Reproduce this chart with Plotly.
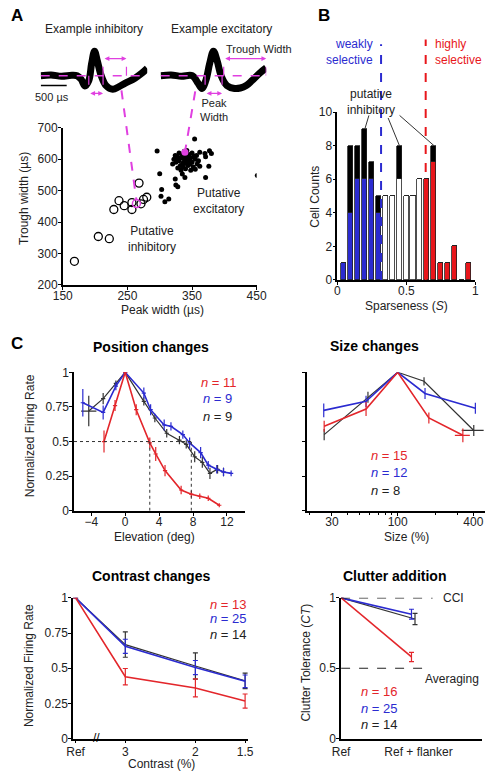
import plotly.graph_objects as go

W, H = 496, 778
def PX(p): return p / W
def PY(p): return 1 - p / H
def lin(v, r, d): return d[0] + (v - r[0]) / (r[1] - r[0]) * (d[1] - d[0])

RED = "#e3262b"; BLUE = "#2b2bd0"; BLK = "#333333"; MAG = "#e040e0"
FONT = "Liberation Sans, Arial, sans-serif"

# ---------------- Panel A: example waveforms (time us, normalized amplitude)
inh_t = [0, 200, 400, 600, 700, 780, 850, 925, 980, 1036, 1090, 1165, 1258, 1387, 1500, 1628, 1813, 1943, 2050]
inh_v = [0.0, 0.03, -0.02, 0.02, 0.0, -0.15, -0.42, -0.2, 0.5, 1.0, 0.6, 0.0, -0.4, -0.55, -0.45, -0.3, -0.1, 0.1, 0.3]
exc_t = [0, 200, 400, 610, 720, 795, 870, 945, 1017, 1090, 1165, 1277, 1425, 1535, 1650, 1758, 1905, 2035]
exc_v = [0.0, 0.03, -0.02, 0.0, -0.3, -0.52, -0.2, 0.5, 1.0, 0.6, 0.0, -0.4, -0.52, -0.5, -0.4, -0.2, 0.1, 0.32]
inh_peak_w = [925, 1200]; inh_trough_w = [1200, 1650]
exc_peak_w = [857, 1184]; exc_trough_w = [1215, 2035]

# Panel A scatter (peak width, trough width in us)
inh_px = [168, 205, 222, 229, 237, 245, 257, 257, 268, 271, 275, 280]
inh_py = [275, 354, 347, 440, 468, 452, 440, 462, 524, 458, 472, 479]
inh_example = (264, 459)
exc_px = [296, 354, 300, 303, 302, 308, 314, 325, 328, 324, 335, 339, 371, 451, 376, 362, 370, 380, 371, 377,
          322, 325, 327, 330, 332, 334, 336, 338, 340, 342, 344, 346, 348, 350, 352, 355, 358, 330, 335, 345,
          328, 333, 340, 348, 355, 320, 338, 350, 342, 324, 360, 362, 336, 331, 344, 353, 326, 347, 339, 357]
exc_py = [626, 664, 554, 504, 482, 465, 473, 518, 512, 537, 553, 542, 542, 548, 578, 622, 618, 618, 608, 627,
          600, 590, 610, 595, 580, 605, 588, 600, 612, 592, 580, 598, 605, 590, 575, 600, 585, 620, 615, 615,
          572, 565, 570, 565, 568, 585, 625, 620, 628, 612, 595, 578, 575, 604, 603, 610, 597, 585, 586, 612]
exc_example = (339, 622)

# ---------------- Panel B: sparseness histogram
bins = [0.05, 0.10, 0.15, 0.20, 0.25, 0.30, 0.35, 0.40, 0.45, 0.50, 0.55, 0.60, 0.65, 0.70, 0.75, 0.80, 0.85, 0.90, 0.95]
sel_counts = [1, 4, 6, 6, 6, 4, 5, 5, 6, 5, 5, 6, 6, 7, 1, 1, 2, 0, 1]
inh_counts = [0, 4, 2, 3, 1, 1, 0, 0, 2, 0, 0, 0, 0, 1, 0, 0, 0, 0, 0]
weak_thr, high_thr = 0.317, 0.64

# ---------------- Panel C: position
pos_red_x = [-2.5, -1.2, 0, 1.3, 2.9, 3.6, 4.7, 6.6, 7.8, 8.8, 9.8, 11.1]
pos_red_y = [0.50, 0.76, 1.0, 0.73, 0.49, 0.41, 0.29, 0.15, 0.12, 0.105, 0.09, 0.04]
pos_red_e = [0.08, 0.04, 0, 0.04, 0.04, 0.05, 0.04, 0.03, 0.025, 0.02, 0.02, 0.015]
pos_blue_x = [-5.0, -2.6, -1.1, 0, 2.2, 3.0, 4.6, 5.4, 6.8, 7.6, 8.9, 9.8, 10.8, 11.6, 12.5]
pos_blue_y = [0.78, 0.71, 0.90, 1.0, 0.85, 0.73, 0.62, 0.61, 0.55, 0.49, 0.42, 0.33, 0.30, 0.28, 0.27]
pos_blue_e = [0.10, 0.05, 0.03, 0, 0.04, 0.04, 0.04, 0.03, 0.03, 0.04, 0.04, 0.03, 0.03, 0.03, 0.02]
pos_blk_x = [-4.3, -2.6, -1.1, 0, 2.2, 3.5, 4.9, 6.4, 7.2, 8.2, 9.1, 10.0, 10.9, 11.6]
pos_blk_y = [0.72, 0.81, 0.92, 1.0, 0.79, 0.67, 0.56, 0.51, 0.48, 0.39, 0.35, 0.27, 0.30, 0.28]
pos_blk_e = [0.11, 0.04, 0.02, 0, 0.03, 0.03, 0.03, 0.03, 0.03, 0.04, 0.04, 0.04, 0.03, 0.03]
pos_blk_ex = [0.9, 0.25, 0.25, 0, 0.25, 0.25, 0.25, 0.25, 0.25, 0.25, 0.25, 0.25, 0.25, 0.25]
half_red, half_blue = 2.9, 7.8

# size
size_red_x = [26, 56, 100, 177, 330]; size_red_y = [0.61, 0.735, 1.0, 0.67, 0.545]; size_red_e = [0.04, 0.05, 0, 0.04, 0.05]
size_blue_x = [25.8, 56, 100, 165, 415]; size_blue_y = [0.725, 0.79, 1.0, 0.847, 0.74]; size_blue_e = [0.05, 0.04, 0, 0.04, 0.04]
size_blk_x = [26, 58, 100, 162, 403]; size_blk_y = [0.55, 0.82, 1.0, 0.935, 0.58]; size_blk_e = [0.04, 0.04, 0, 0.03, 0.04]
size_red_ex = [0, 0, 0, 0, 45]; size_blk_ex = [0, 0, 0, 0, 80]

# contrast
REF_POS = 4.0
con_x = [REF_POS, 3, 2, 1.5]
con_red_y = [1.0, 0.44, 0.36, 0.267]; con_red_e = [0, 0.058, 0.064, 0.05]
con_blue_y = [1.0, 0.656, 0.505, 0.407]; con_blue_e = [0, 0.05, 0.05, 0.045]
con_blk_y = [1.0, 0.668, 0.516, 0.41]; con_blk_e = [0, 0.09, 0.093, 0.055]

# clutter
clu_x = [0, 1]; clu_x_blk = [0, 1.05]
clu_red_y = [1.0, 0.58]; clu_red_e = [0, 0.033]
clu_blue_y = [1.0, 0.884]; clu_blue_e = [0, 0.035]
clu_blk_y = [1.0, 0.85]; clu_blk_e = [0, 0.04]

fig = go.Figure()

# axis geometry
AX = {
    "x": dict(domain=[PX(55), PX(257)], range=[150, 450]),
    "y": dict(domain=[PY(283), PY(123)], range=[200, 700]),
    "x2": dict(domain=[PX(341), PX(485)], range=[0, 1.0]),
    "y2": dict(domain=[PY(278), PY(107)], range=[0, 10]),
    "x3": dict(domain=[PX(66.7), PX(245)], range=[-6.04, 14.15]),
    "y3": dict(domain=[PY(513), PY(372)], range=[0, 1]),
    "x4": dict(domain=[PX(309.3), PX(495)], range=[1.277, 2.695]),
    "y4": dict(domain=[PY(513), PY(372)], range=[0, 1]),
    "x5": dict(domain=[PX(65.7), PX(248)], range=[0.6085, 0.1688]),
    "y5": dict(domain=[PY(745), PY(601.7)], range=[0, 1]),
    "x6": dict(domain=[PX(345), PX(491.7)], range=[0, 2.0]),
    "y6": dict(domain=[PY(745), PY(601.7)], range=[0, 1]),
    "x7": dict(domain=[PX(32), PX(143)], range=[0, 2050]),
    "y7": dict(domain=[PY(100), PY(30)], range=[-1.2, 1.6]),
    "x8": dict(domain=[PX(157), PX(267)], range=[0, 2035]),
    "y8": dict(domain=[PY(100), PY(30)], range=[-1.2, 1.6]),
}
def paper(ax, v):
    a = AX[ax]; return lin(v, a["range"], a["domain"])

# waveforms
fig.add_trace(go.Scatter(x=inh_t, y=inh_v, mode="lines", line=dict(color="black", width=7, shape="spline"), xaxis="x7", yaxis="y7"))
fig.add_trace(go.Scatter(x=exc_t, y=exc_v, mode="lines", line=dict(color="black", width=7, shape="spline"), xaxis="x8", yaxis="y8"))

# scatter A
fig.add_trace(go.Scatter(x=exc_px, y=exc_py, mode="markers", marker=dict(color="black", size=5), xaxis="x", yaxis="y"))
fig.add_trace(go.Scatter(x=inh_px, y=inh_py, mode="markers", marker=dict(symbol="circle-open", color="black", size=8, line=dict(width=1.3)), xaxis="x", yaxis="y"))
fig.add_trace(go.Scatter(x=[inh_example[0]], y=[inh_example[1]], mode="markers", marker=dict(symbol="circle-open", color=MAG, size=8, line=dict(width=1.5)), xaxis="x", yaxis="y"))
fig.add_trace(go.Scatter(x=[exc_example[0]], y=[exc_example[1]], mode="markers", marker=dict(color=MAG, size=7), xaxis="x", yaxis="y"))

# histogram B
bar_colors = [BLUE] * 6 + ["white"] * 6 + ["#e8161b"] * 7
fig.add_trace(go.Bar(x=bins, y=sel_counts, width=0.037, marker=dict(color=bar_colors, line=dict(color="#222", width=0.8)), xaxis="x2", yaxis="y2"))
fig.add_trace(go.Bar(x=bins, y=inh_counts, width=0.037, marker=dict(color="black", line=dict(color="#222", width=0.8)), xaxis="x2", yaxis="y2"))

def line_trace(x, y, e, color, xa, ya, ex=None, cap=0, width=1.6):
    d = dict(x=x, y=y, mode="lines", line=dict(color=color, width=width), xaxis=xa, yaxis=ya,
             error_y=dict(type="data", array=e, color=color, thickness=1.2, width=cap))
    if ex is not None:
        d["error_x"] = dict(type="data", array=ex, color=color, thickness=1.2, width=0)
    fig.add_trace(go.Scatter(**d))

# position
line_trace(pos_blk_x, pos_blk_y, pos_blk_e, BLK, "x3", "y3", ex=pos_blk_ex, width=1.2)
line_trace(pos_blue_x, pos_blue_y, pos_blue_e, BLUE, "x3", "y3", ex=[0.25] * len(pos_blue_x))
line_trace(pos_red_x, pos_red_y, pos_red_e, RED, "x3", "y3", ex=[0.25] * len(pos_red_x))
# size
line_trace(size_blk_x, size_blk_y, size_blk_e, BLK, "x4", "y4", ex=size_blk_ex, width=1.2)
line_trace(size_blue_x, size_blue_y, size_blue_e, BLUE, "x4", "y4")
line_trace(size_red_x, size_red_y, size_red_e, RED, "x4", "y4", ex=size_red_ex)
# contrast
line_trace(con_x, con_blk_y, con_blk_e, BLK, "x5", "y5", cap=2.5, width=1.2)
line_trace(con_x, con_blue_y, con_blue_e, BLUE, "x5", "y5", cap=2.5)
line_trace(con_x, con_red_y, con_red_e, RED, "x5", "y5", cap=2.5)
# clutter
line_trace(clu_x_blk, clu_blk_y, clu_blk_e, BLK, "x6", "y6", cap=2.5, width=1.2)
line_trace(clu_x, clu_blue_y, clu_blue_e, BLUE, "x6", "y6", cap=2.5)
line_trace(clu_x, clu_red_y, clu_red_e, RED, "x6", "y6", cap=2.5)

base = dict(showgrid=False, zeroline=False, showline=True, linecolor="black", linewidth=1.5,
            ticks="outside", ticklen=3, tickwidth=1.2, tickcolor="black",
            tickfont=dict(family=FONT, size=12, color="#222"))
lay = {}
def setax(name, anchor, **kw):
    d = dict(base); d.update(AX[name]); d["anchor"] = anchor
    d["ticklabelstandoff"] = -4 if name[0] == "x" else -2
    d.update(kw)
    key = ("xaxis" if name[0] == "x" else "yaxis") + name[1:]
    lay[key] = d

setax("x", "y", tickvals=[150, 250, 350, 450])
setax("y", "x", tickvals=[200, 300, 400, 500, 600, 700])
setax("x2", "y2", tickvals=[0, 0.5, 1], ticktext=["0", "0.5", "1"])
setax("y2", "x2", tickvals=[0, 2, 4, 6, 8, 10])
setax("x3", "y3", tickvals=[-4, 0, 4, 8, 12])
setax("y3", "x3", tickvals=[0, 0.25, 0.5, 0.75, 1], ticktext=["0", "0.25", "0.5", "0.75", "1"])
setax("x4", "y4", type="log", tickvals=[30, 100, 400], ticktext=["30", "100", "400"],
      minor=dict(tickvals=[20, 40, 50, 60, 70, 80, 90, 200, 300], ticks="outside", ticklen=2, tickcolor="black"))
setax("y4", "x4", tickvals=[0, 0.25, 0.5, 0.75, 1], showticklabels=False)
setax("x5", "y5", type="log", tickvals=con_x, ticktext=["Ref", "3", "2", "1.5"], ticklabelstandoff=-2)
setax("y5", "x5", tickvals=[0, 0.25, 0.5, 0.75, 1], ticktext=["0", "0.25", "0.5", "0.75", "1"])
setax("x6", "y6", tickvals=[0, 1.1], ticktext=["Ref", "Ref + flanker"], ticks="", ticklabelstandoff=1)
setax("y6", "x6", tickvals=[0, 0.5, 1], ticktext=["0", "0.5", "1"])
for n in ["x7", "y7", "x8", "y8"]:
    key = ("xaxis" if n[0] == "x" else "yaxis") + n[1:]
    lay[key] = dict(AX[n], visible=False, anchor=("y" if n[0] == "x" else "x") + n[1:])

shapes = []
def seg(x0, y0, x1, y1, xref, yref, color, width=1.5, dash=None):
    shapes.append(dict(type="line", x0=x0, y0=y0, x1=x1, y1=y1, xref=xref, yref=yref,
                       line=dict(color=color, width=width, dash=dash)))

# waveform magenta annotations
for xa, ya, tr, pw, tw in [("x7", "y7", AX["x7"]["range"], inh_peak_w, inh_trough_w),
                          ("x8", "y8", AX["x8"]["range"], exc_peak_w, exc_trough_w)]:
    seg(tr[0], 0, tr[1], 0, xa, ya, MAG, 1.3, "dash")
    for xv in pw:
        seg(xv, 0, xv, -0.72, xa, ya, MAG, 1.2, "dash")
    for xv in tw:
        seg(xv, 0, xv, 0.7, xa, ya, MAG, 1.2, "dash")
# scale bar 500 us
seg(0, -0.4, 500, -0.4, "x7", "y7", "black", 1.5)

# connectors to the scatter examples
seg(paper("x7", 1554), paper("y7", -0.6), paper("x", inh_example[0]), paper("y", inh_example[1]) + 0.004, "paper", "paper", MAG, 2, "dash")
seg(paper("x8", 666), paper("y8", -0.64), paper("x", exc_example[0]), paper("y", exc_example[1]), "paper", "paper", MAG, 2, "dash")

# selectivity thresholds
seg(weak_thr, PY(278), weak_thr, PY(38), "x2", "paper", BLUE, 2, "dash")
seg(high_thr, PY(278), high_thr, PY(33), "x2", "paper", "#e8161b", 2, "dash")
# putative inhibitory pointers
for (sx, sy), (ex_, ey) in [((0.229, 9.8), (0.2, 9)), ((0.368, 9.65), (0.45, 8)), ((0.451, 9.8), (0.7, 8))]:
    seg(sx, sy, ex_, ey, "x2", "y2", "#333", 1)

# position dotted lines
seg(AX["x3"]["range"][0], 0.5, half_blue, 0.5, "x3", "y3", "#333", 1, "dot")
seg(half_red, 0, half_red, 0.5, "x3", "y3", "#333", 1, "dot")
seg(half_blue, 0, half_blue, 0.5, "x3", "y3", "#333", 1, "dot")

# clutter reference lines
seg(0, 1, 1.3, 1, "x6", "y6", "#222", 1.2, "dash")
seg(0, 0.5, 1.17, 0.5, "x6", "y6", "#222", 1.2, "dash")

ann = []
def txt(x, y, s, size=12, color="#222", xanchor="center", yanchor="middle", angle=0, bold=False, xref="paper", yref="paper", align="center"):
    if bold: s = "<b>" + s + "</b>"
    ann.append(dict(x=x, y=y, xref=xref, yref=yref, text=s, showarrow=False, xanchor=xanchor, yanchor=yanchor,
                    textangle=angle, align=align, font=dict(family=FONT, size=size, color=color)))

def arrow2(xa, ya, x0, x1, y):
    ann.append(dict(x=x1, y=y, ax=x0, ay=y, xref=xa, yref=ya, axref=xa, ayref=ya, text="", showarrow=True,
                    arrowhead=2, arrowside="end+start", arrowsize=0.8, arrowwidth=1.2, arrowcolor=MAG, standoff=0, startstandoff=0))
arrow2("x7", "y7", inh_peak_w[0], inh_peak_w[1], -0.72)
arrow2("x7", "y7", inh_trough_w[0], inh_trough_w[1], 0.7)
arrow2("x8", "y8", exc_peak_w[0], exc_peak_w[1], -0.72)
arrow2("x8", "y8", exc_trough_w[0], exc_trough_w[1], 0.7)

txt(PX(7), PY(9), "A", 17, "black", bold=True)
txt(PX(327), PY(9), "B", 17, "black", bold=True)
txt(PX(7), PY(343), "C", 17, "black", bold=True)
txt(PX(88), PY(22), "Example inhibitory", 12)
txt(PX(220), PY(22), "Example excitatory", 12)
txt(PX(223), PY(43), "Trough Width", 11, xanchor="left")
txt(PX(213), PY(105), "Peak<br>Width", 11)
txt(PX(44), PY(92), "500 µs", 11)
txt(PX(217), PY(198), "Putative<br>excitatory", 12)
txt(PX(148), PY(236), "Putative<br>inhibitory", 12)
txt(PX(15), PY(195), "Trough width (µs)", 12, angle=-90)
txt(PX(159), PY(309), "Peak width (µs)", 12)

txt(PX(380), PY(46), "weakly<br>selective", 12, BLUE, xanchor="right", align="right")
txt(PX(441), PY(46), "highly<br>selective", 12, "#e8161b", xanchor="left", align="left")
txt(PX(376), PY(97), "putative<br>inhibitory", 12)
txt(PX(317), PY(193), "Cell Counts", 12, angle=-90)
txt(PX(413), PY(304), "Sparseness (<i>S</i>)", 12)

txt(PX(147), PY(346), "Position changes", 14, "black", bold=True)
txt(PX(380), PY(345), "Size changes", 14, "black", bold=True)
txt(PX(147), PY(579), "Contrast changes", 14, "black", bold=True)
txt(PX(401), PY(579), "Clutter addition", 14, "black", bold=True)

txt(PX(21), PY(437), "Normalized Firing Rate", 12, angle=-90)
txt(PX(151), PY(540), "Elevation (deg)", 12)
txt(PX(413), PY(540), "Size (%)", 12)
txt(PX(20), PY(671), "Normalized Firing Rate", 12, angle=-90)
txt(PX(158), PY(771), "Contrast (%)", 12)
txt(PX(308), PY(668), "Clutter Tolerance (<i>CT</i>)", 12, angle=-90)

txt(PX(197), PY(382), "<i>n</i> = 11", 13, RED, xanchor="left")
txt(PX(199), PY(399), "<i>n</i> = 9", 13, BLUE, xanchor="left")
txt(PX(199), PY(417), "<i>n</i> = 9", 13, "#222", xanchor="left")
txt(PX(374), PY(457), "<i>n</i> = 15", 13, RED, xanchor="left")
txt(PX(374), PY(474), "<i>n</i> = 12", 13, BLUE, xanchor="left")
txt(PX(374), PY(492), "<i>n</i> = 8", 13, "#222", xanchor="left")
txt(PX(206), PY(608), "<i>n</i> = 13", 13, RED, xanchor="left")
txt(PX(206), PY(623), "<i>n</i> = 25", 13, BLUE, xanchor="left")
txt(PX(206), PY(639), "<i>n</i> = 14", 13, "#222", xanchor="left")
txt(PX(364), PY(697), "<i>n</i> = 16", 13, RED, xanchor="left")
txt(PX(364), PY(714), "<i>n</i> = 25", 13, BLUE, xanchor="left")
txt(PX(364), PY(731), "<i>n</i> = 14", 13, "#222", xanchor="left")
txt(PX(449), PY(602), "CCI", 12, xanchor="left")
txt(PX(430), PY(684), "Averaging", 12, xanchor="left")
txt(PX(90), PY(744), "//", 12, "black")

fig.update_layout(width=W, height=H, margin=dict(l=0, r=0, t=0, b=0), paper_bgcolor="white", plot_bgcolor="white",
                  showlegend=False, barmode="stack", bargap=0, shapes=shapes, annotations=ann,
                  font=dict(family=FONT, size=12, color="#222"), **lay)
fig.write_html("out.html")
